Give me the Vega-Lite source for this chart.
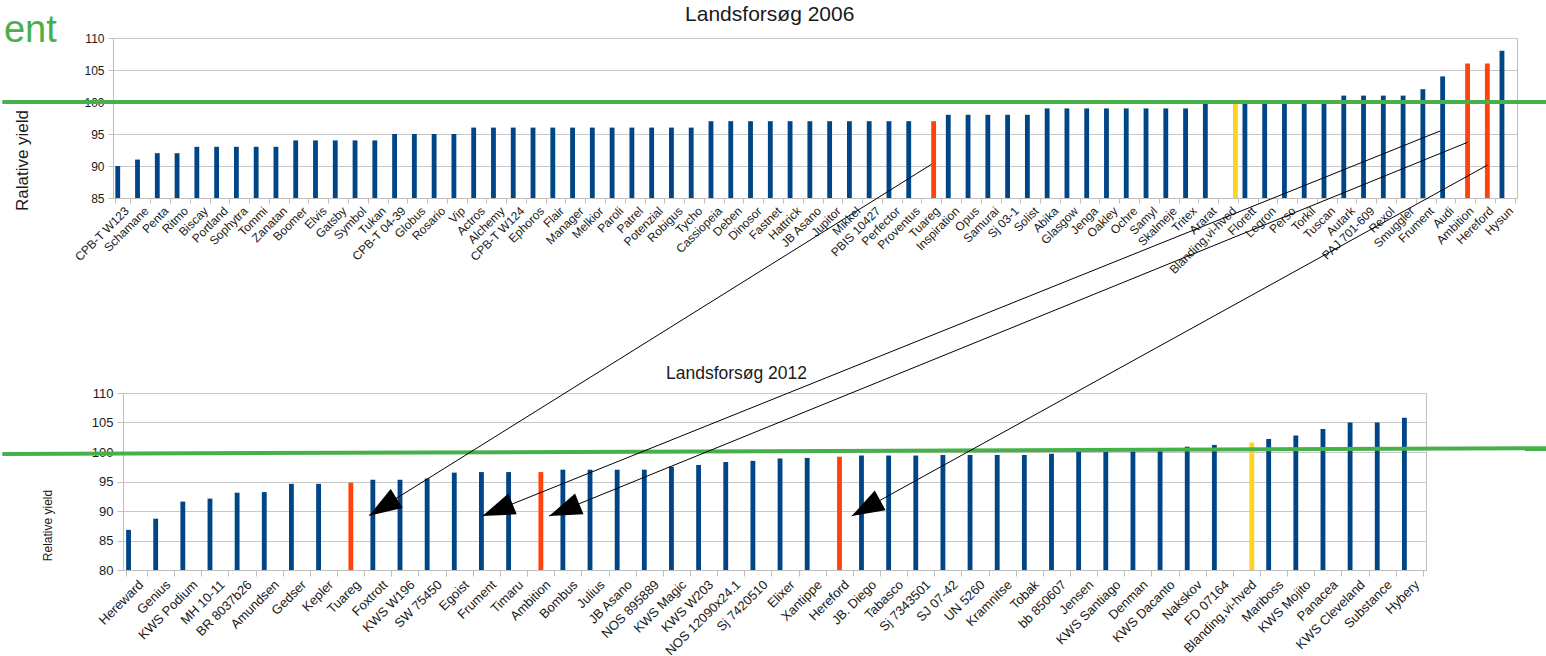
{
  "$schema": "https://vega.github.io/schema/vega-lite/v6.json",
  "padding": {"left": 0, "top": 3, "right": 0, "bottom": 0},
  "autosize": {"type": "pad"},
  "background": "white",
  "config": {
    "font": "Liberation Sans",
    "view": {"stroke": "#bfbfbf"},
    "axis": {"labelFont": "Liberation Sans", "titleFont": "Liberation Sans", "labelColor": "#1a1a1a", "titleColor": "#1a1a1a", "titleFontWeight": "normal", "domainColor": "#bfbfbf", "tickColor": "#bfbfbf", "gridColor": "#c8c8c8"}
  },
  "spacing": 195,
  "bounds": "flush",
  "vconcat": [
    {
      "width": 1404,
      "height": 160,
      "layer": [
        {
          "data": {"values": [
            {"variety": "CPB-T W123", "yield": 90, "kind": "other"},
            {"variety": "Schamane", "yield": 91, "kind": "other"},
            {"variety": "Penta", "yield": 92, "kind": "other"},
            {"variety": "Ritmo", "yield": 92, "kind": "other"},
            {"variety": "Biscay", "yield": 93, "kind": "other"},
            {"variety": "Portland", "yield": 93, "kind": "other"},
            {"variety": "Sophytra", "yield": 93, "kind": "other"},
            {"variety": "Tommi", "yield": 93, "kind": "other"},
            {"variety": "Zanatan", "yield": 93, "kind": "other"},
            {"variety": "Boomer", "yield": 94, "kind": "other"},
            {"variety": "Elvis", "yield": 94, "kind": "other"},
            {"variety": "Gatsby", "yield": 94, "kind": "other"},
            {"variety": "Symbol", "yield": 94, "kind": "other"},
            {"variety": "Tukan", "yield": 94, "kind": "other"},
            {"variety": "CPB-T 04-39", "yield": 95, "kind": "other"},
            {"variety": "Globus", "yield": 95, "kind": "other"},
            {"variety": "Rosario", "yield": 95, "kind": "other"},
            {"variety": "Vip", "yield": 95, "kind": "other"},
            {"variety": "Actros", "yield": 96, "kind": "other"},
            {"variety": "Alchemy", "yield": 96, "kind": "other"},
            {"variety": "CPB-T W124", "yield": 96, "kind": "other"},
            {"variety": "Ephoros", "yield": 96, "kind": "other"},
            {"variety": "Flair", "yield": 96, "kind": "other"},
            {"variety": "Manager", "yield": 96, "kind": "other"},
            {"variety": "Melkior", "yield": 96, "kind": "other"},
            {"variety": "Paroli", "yield": 96, "kind": "other"},
            {"variety": "Patrel", "yield": 96, "kind": "other"},
            {"variety": "Potenzial", "yield": 96, "kind": "other"},
            {"variety": "Robigus", "yield": 96, "kind": "other"},
            {"variety": "Tycho", "yield": 96, "kind": "other"},
            {"variety": "Cassiopeia", "yield": 97, "kind": "other"},
            {"variety": "Deben", "yield": 97, "kind": "other"},
            {"variety": "Dinosor", "yield": 97, "kind": "other"},
            {"variety": "Fastnet", "yield": 97, "kind": "other"},
            {"variety": "Hattrick", "yield": 97, "kind": "other"},
            {"variety": "JB Asano", "yield": 97, "kind": "other"},
            {"variety": "Jupitor", "yield": 97, "kind": "other"},
            {"variety": "Mikkel", "yield": 97, "kind": "other"},
            {"variety": "PBIS 10427", "yield": 97, "kind": "other"},
            {"variety": "Perfector", "yield": 97, "kind": "other"},
            {"variety": "Proventus", "yield": 97, "kind": "other"},
            {"variety": "Tuareg", "yield": 97, "kind": "tracked"},
            {"variety": "Inspiration", "yield": 98, "kind": "other"},
            {"variety": "Opus", "yield": 98, "kind": "other"},
            {"variety": "Samurai", "yield": 98, "kind": "other"},
            {"variety": "Sj 03-1", "yield": 98, "kind": "other"},
            {"variety": "Solist", "yield": 98, "kind": "other"},
            {"variety": "Abika", "yield": 99, "kind": "other"},
            {"variety": "Glasgow", "yield": 99, "kind": "other"},
            {"variety": "Jenga", "yield": 99, "kind": "other"},
            {"variety": "Oakley", "yield": 99, "kind": "other"},
            {"variety": "Ochre", "yield": 99, "kind": "other"},
            {"variety": "Samyl", "yield": 99, "kind": "other"},
            {"variety": "Skalmeje", "yield": 99, "kind": "other"},
            {"variety": "Tritex", "yield": 99, "kind": "other"},
            {"variety": "Ararat", "yield": 100, "kind": "other"},
            {"variety": "Blanding,vi-hved", "yield": 100, "kind": "mixture"},
            {"variety": "Florett", "yield": 100, "kind": "other"},
            {"variety": "Legron", "yield": 100, "kind": "other"},
            {"variety": "Perso", "yield": 100, "kind": "other"},
            {"variety": "Torkil", "yield": 100, "kind": "other"},
            {"variety": "Tuscan", "yield": 100, "kind": "other"},
            {"variety": "Autark", "yield": 101, "kind": "other"},
            {"variety": "PAJ 701-609", "yield": 101, "kind": "other"},
            {"variety": "Rexol", "yield": 101, "kind": "other"},
            {"variety": "Smuggler", "yield": 101, "kind": "other"},
            {"variety": "Frument", "yield": 102, "kind": "other"},
            {"variety": "Audi", "yield": 104, "kind": "other"},
            {"variety": "Ambition", "yield": 106, "kind": "tracked"},
            {"variety": "Hereford", "yield": 106, "kind": "tracked"},
            {"variety": "Hysun", "yield": 108, "kind": "other"}
          ]},
          "mark": {"type": "bar"},
          "encoding": {
            "x": {"field": "variety", "type": "nominal", "sort": null, "title": null,
                  "scale": {"paddingInner": 0.235, "paddingOuter": 0.1175},
                  "axis": {"labelAngle": -45, "labelFontSize": 12, "tickBand": "extent", "tickSize": 5, "grid": false, "labelOverlap": false, "labelLimit": 300, "labelPadding": 2}},
            "xOffset": {"field": "kind", "type": "nominal", "scale": {"domain": ["other", "tracked", "mixture"], "paddingInner": 0.06, "paddingOuter": 0}},
            "y": {"field": "yield", "type": "quantitative",
                  "scale": {"domain": [85, 110], "nice": false, "zero": false},
                  "axis": {"values": [85, 90, 95, 100, 105, 110], "title": "Ralative yield", "titleFontSize": 17, "titlePadding": 52, "titleY": 122, "labelFontSize": 12, "tickSize": 5, "labelPadding": 4, "grid": true}},
            "y2": {"datum": 85},
            "color": {"field": "kind", "type": "nominal", "scale": {"domain": ["other", "tracked", "mixture"], "range": ["#004586", "#ff420e", "#ffd320"]}, "legend": null}
          }
        },
        {
          "data": {"values": [{"note": "annotations"}]},
          "layer": [
            {
              "mark": {"type": "rule", "color": "#48b04b", "strokeWidth": 4, "strokeCap": "square"},
              "encoding": {
                "x": {"datum": -5.497, "type": "quantitative", "scale": {"domain": [0, 71], "nice": false, "zero": false}, "axis": null},
                "x2": {"datum": 72.58},
                "y": {"datum": 100, "type": "quantitative", "scale": {"domain": [85, 110], "nice": false, "zero": false}, "axis": null}
              }
            },
            {
              "mark": {"type": "text", "fontSize": 38, "color": "#48b04b", "align": "center", "baseline": "alphabetic", "text": "ent"},
              "encoding": {
                "x": {"datum": -4.18, "type": "quantitative", "scale": {"domain": [0, 71], "nice": false, "zero": false}, "axis": null},
                "y": {"datum": 109.42, "type": "quantitative", "scale": {"domain": [85, 110], "nice": false, "zero": false}, "axis": null}
              }
            },
            {
              "mark": {"type": "text", "fontSize": 21, "color": "#1a1a1a", "align": "center", "baseline": "alphabetic", "text": "Landsforsøg 2006"},
              "encoding": {
                "x": {"datum": 33.21, "type": "quantitative", "scale": {"domain": [0, 71], "nice": false, "zero": false}, "axis": null},
                "y": {"datum": 112.7, "type": "quantitative", "scale": {"domain": [85, 110], "nice": false, "zero": false}, "axis": null}
              }
            }
          ]
        }
      ],
      "resolve": {"scale": {"x": "independent", "y": "independent"}}
    },
    {
      "spacing": 0,
      "bounds": "flush",
      "hconcat": [
        {
          "width": 10,
          "height": 177,
          "data": {"values": []},
          "mark": {"type": "point", "opacity": 0},
          "view": {"stroke": null}
        },
        {
          "width": 1303,
          "height": 177,
          "layer": [
            {
              "data": {"values": [
                {"variety": "Hereward", "yield": 86.8, "kind": "other"},
                {"variety": "Genius", "yield": 88.7, "kind": "other"},
                {"variety": "KWS Podium", "yield": 91.6, "kind": "other"},
                {"variety": "MH 10-11", "yield": 92.1, "kind": "other"},
                {"variety": "BR 8037b26", "yield": 93.1, "kind": "other"},
                {"variety": "Amundsen", "yield": 93.2, "kind": "other"},
                {"variety": "Gedser", "yield": 94.6, "kind": "other"},
                {"variety": "Kepler", "yield": 94.6, "kind": "other"},
                {"variety": "Tuareg", "yield": 94.8, "kind": "tracked"},
                {"variety": "Foxtrott", "yield": 95.3, "kind": "other"},
                {"variety": "KWS W196", "yield": 95.3, "kind": "other"},
                {"variety": "SW 75450", "yield": 95.5, "kind": "other"},
                {"variety": "Egoist", "yield": 96.5, "kind": "other"},
                {"variety": "Frument", "yield": 96.6, "kind": "other"},
                {"variety": "Timaru", "yield": 96.6, "kind": "other"},
                {"variety": "Ambition", "yield": 96.6, "kind": "tracked"},
                {"variety": "Bombus", "yield": 97.0, "kind": "other"},
                {"variety": "Julius", "yield": 97.0, "kind": "other"},
                {"variety": "JB Asano", "yield": 97.0, "kind": "other"},
                {"variety": "NOS 895889", "yield": 97.0, "kind": "other"},
                {"variety": "KWS Magic", "yield": 97.5, "kind": "other"},
                {"variety": "KWS W203", "yield": 97.8, "kind": "other"},
                {"variety": "NOS 12090x24.1", "yield": 98.3, "kind": "other"},
                {"variety": "Sj 7420510", "yield": 98.5, "kind": "other"},
                {"variety": "Elixer", "yield": 98.9, "kind": "other"},
                {"variety": "Xantippe", "yield": 99.0, "kind": "other"},
                {"variety": "Hereford", "yield": 99.2, "kind": "tracked"},
                {"variety": "JB. Diego", "yield": 99.4, "kind": "other"},
                {"variety": "Tabasco", "yield": 99.4, "kind": "other"},
                {"variety": "Sj 7343501", "yield": 99.4, "kind": "other"},
                {"variety": "SJ 07-42", "yield": 99.5, "kind": "other"},
                {"variety": "UN 5260", "yield": 99.5, "kind": "other"},
                {"variety": "Kramnitse", "yield": 99.5, "kind": "other"},
                {"variety": "Tobak", "yield": 99.5, "kind": "other"},
                {"variety": "bb 850607", "yield": 99.7, "kind": "other"},
                {"variety": "Jensen", "yield": 100.0, "kind": "other"},
                {"variety": "KWS Santiago", "yield": 100.0, "kind": "other"},
                {"variety": "Denman", "yield": 100.1, "kind": "other"},
                {"variety": "KWS Dacanto", "yield": 100.3, "kind": "other"},
                {"variety": "Nakskov", "yield": 100.9, "kind": "other"},
                {"variety": "FD 07164", "yield": 101.2, "kind": "other"},
                {"variety": "Blanding,vi-hved", "yield": 101.6, "kind": "mixture"},
                {"variety": "Mariboss", "yield": 102.2, "kind": "other"},
                {"variety": "KWS Mojito", "yield": 102.8, "kind": "other"},
                {"variety": "Panacea", "yield": 103.9, "kind": "other"},
                {"variety": "KWS Cleveland", "yield": 105.0, "kind": "other"},
                {"variety": "Substance", "yield": 105.0, "kind": "other"},
                {"variety": "Hybery", "yield": 105.8, "kind": "other"}
              ]},
              "mark": {"type": "bar"},
              "encoding": {
                "x": {"field": "variety", "type": "nominal", "sort": null, "title": null,
                      "scale": {"paddingInner": 0.23, "paddingOuter": 0.115},
                      "axis": {"labelAngle": -45, "labelFontSize": 13, "tickBand": "extent", "tickSize": 6, "grid": false, "labelOverlap": false, "labelLimit": 300, "labelPadding": 2}},
                "xOffset": {"field": "kind", "type": "nominal", "scale": {"domain": ["other", "mixture", "tracked"], "paddingInner": 0, "paddingOuter": 0}},
                "y": {"field": "yield", "type": "quantitative",
                      "scale": {"domain": [80, 110], "nice": false, "zero": false},
                      "axis": {"values": [80, 85, 90, 95, 100, 105, 110], "title": "Relative yield", "titleFontSize": 12, "titlePadding": 37, "titleY": 132, "labelFontSize": 13, "tickSize": 6, "labelPadding": 4, "grid": true}},
                "y2": {"datum": 80},
                "color": {"field": "kind", "type": "nominal", "scale": {"domain": ["other", "tracked", "mixture"], "range": ["#004586", "#ff420e", "#ffd320"]}, "legend": null}
              }
            },
            {
              "data": {"values": [{"note": "annotations"}]},
              "layer": [
                {
                  "mark": {"type": "text", "fontSize": 17.5, "color": "#1a1a1a", "align": "center", "baseline": "alphabetic", "text": "Landsforsøg 2012"},
                  "encoding": {
                    "x": {"datum": 22.6, "type": "quantitative", "scale": {"domain": [0, 48], "nice": false, "zero": false}, "axis": null},
                    "y": {"datum": 112.42, "type": "quantitative", "scale": {"domain": [80, 110], "nice": false, "zero": false}, "axis": null}
                  }
                },
                {
                  "mark": {"type": "rule", "color": "#48b04b", "strokeWidth": 4, "strokeCap": "square"},
                  "encoding": {
                    "x": {"datum": -4.373, "type": "quantitative", "scale": {"domain": [0, 48], "nice": false, "zero": false}, "axis": null},
                    "x2": {"datum": 52.5},
                    "y": {"datum": 99.66, "type": "quantitative", "scale": {"domain": [80, 110], "nice": false, "zero": false}, "axis": null},
                    "y2": {"datum": 100.63}
                  }
                },
                {
                  "mark": {"type": "rule", "color": "black", "strokeWidth": 1},
                  "encoding": {
                    "x": {"datum": 29.78, "type": "quantitative", "scale": {"domain": [0, 48], "nice": false, "zero": false}, "axis": null},
                    "x2": {"datum": 9.062},
                    "y": {"datum": 148.75, "type": "quantitative", "scale": {"domain": [80, 110], "nice": false, "zero": false}, "axis": null},
                    "y2": {"datum": 89.25}
                  }
                },
                {
                  "mark": {"type": "rule", "color": "black", "strokeWidth": 1},
                  "encoding": {
                    "x": {"datum": 48.52, "type": "quantitative", "scale": {"domain": [0, 48], "nice": false, "zero": false}, "axis": null},
                    "x2": {"datum": 13.236},
                    "y": {"datum": 154.41, "type": "quantitative", "scale": {"domain": [80, 110], "nice": false, "zero": false}, "axis": null},
                    "y2": {"datum": 89.15}
                  }
                },
                {
                  "mark": {"type": "rule", "color": "black", "strokeWidth": 1},
                  "encoding": {
                    "x": {"datum": 49.52, "type": "quantitative", "scale": {"domain": [0, 48], "nice": false, "zero": false}, "axis": null},
                    "x2": {"datum": 15.693},
                    "y": {"datum": 152.47, "type": "quantitative", "scale": {"domain": [80, 110], "nice": false, "zero": false}, "axis": null},
                    "y2": {"datum": 89.15}
                  }
                },
                {
                  "mark": {"type": "rule", "color": "black", "strokeWidth": 1},
                  "encoding": {
                    "x": {"datum": 50.27, "type": "quantitative", "scale": {"domain": [0, 48], "nice": false, "zero": false}, "axis": null},
                    "x2": {"datum": 26.84},
                    "y": {"datum": 148.64, "type": "quantitative", "scale": {"domain": [80, 110], "nice": false, "zero": false}, "axis": null},
                    "y2": {"datum": 89.15}
                  }
                },
                {
                  "mark": {"type": "point", "shape": "M0,-1L0.69,1L-0.69,1Z", "size": 1056, "angle": 238, "filled": true, "color": "black", "opacity": 1, "strokeWidth": 0},
                  "encoding": {
                    "x": {"datum": 9.574, "type": "quantitative", "scale": {"domain": [0, 48], "nice": false, "zero": false}, "axis": null},
                    "y": {"datum": 90.67, "type": "quantitative", "scale": {"domain": [80, 110], "nice": false, "zero": false}, "axis": null}
                  }
                },
                {
                  "mark": {"type": "point", "shape": "M0,-1L0.69,1L-0.69,1Z", "size": 1056, "angle": 248.1, "filled": true, "color": "black", "opacity": 1, "strokeWidth": 0},
                  "encoding": {
                    "x": {"datum": 13.794, "type": "quantitative", "scale": {"domain": [0, 48], "nice": false, "zero": false}, "axis": null},
                    "y": {"datum": 90.17, "type": "quantitative", "scale": {"domain": [80, 110], "nice": false, "zero": false}, "axis": null}
                  }
                },
                {
                  "mark": {"type": "point", "shape": "M0,-1L0.69,1L-0.69,1Z", "size": 1056, "angle": 247.9, "filled": true, "color": "black", "opacity": 1, "strokeWidth": 0},
                  "encoding": {
                    "x": {"datum": 16.253, "type": "quantitative", "scale": {"domain": [0, 48], "nice": false, "zero": false}, "axis": null},
                    "y": {"datum": 90.17, "type": "quantitative", "scale": {"domain": [80, 110], "nice": false, "zero": false}, "axis": null}
                  }
                },
                {
                  "mark": {"type": "point", "shape": "M0,-1L0.69,1L-0.69,1Z", "size": 1056, "angle": 241.1, "filled": true, "color": "black", "opacity": 1, "strokeWidth": 0},
                  "encoding": {
                    "x": {"datum": 27.369, "type": "quantitative", "scale": {"domain": [0, 48], "nice": false, "zero": false}, "axis": null},
                    "y": {"datum": 90.47, "type": "quantitative", "scale": {"domain": [80, 110], "nice": false, "zero": false}, "axis": null}
                  }
                }
              ]
            }
          ],
          "resolve": {"scale": {"x": "independent", "y": "independent"}}
        }
      ]
    }
  ]
}
